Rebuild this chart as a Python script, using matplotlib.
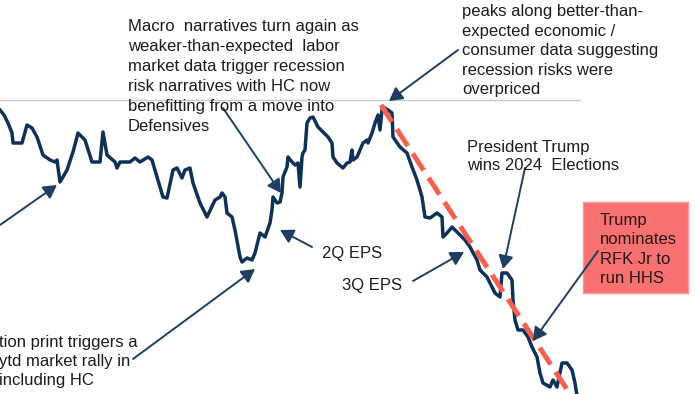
import matplotlib
matplotlib.use("Agg")
import matplotlib.pyplot as plt
from matplotlib.patches import Rectangle

# relative performance index (traced), x = trading day
days = [0, 4, 8, 12, 13, 18, 22, 27, 32, 37, 43, 50, 55, 57, 60, 67, 73, 78, 85, 92,
        100, 103, 107, 115, 117, 120, 130, 135, 140, 148, 152, 157, 163, 167, 173, 177,
        182, 185, 190, 193, 200, 207, 215, 220, 222, 225, 227, 232, 235, 240, 242, 247,
        252, 255, 260, 265, 270, 272, 273, 277, 280, 282, 283, 287, 288, 292, 295, 298,
        300, 302, 303, 305, 307, 310, 313, 318, 323, 328, 332, 333, 337, 343, 347, 350,
        352, 353, 357, 360, 363, 367, 368, 372, 375, 378, 380, 382, 383, 388, 392, 393,
        400, 407, 412, 417, 422, 425, 430, 437, 442, 443, 447, 452, 458, 465, 470, 477,
        480, 487, 495, 500, 502, 507, 512, 513, 515, 518, 523, 528, 532, 537, 540, 543,
        550, 553, 557, 562, 567, 572, 575, 577]
rel_perf = [284, 279, 271, 261, 251, 251, 251, 269, 266, 257, 239, 234, 232, 234, 212,
            224, 242, 261, 254, 232, 232, 262, 239, 232, 226, 232, 232, 236, 232, 237,
            234, 217, 197, 196, 224, 226, 216, 224, 226, 211, 191, 177, 194, 197, 201,
            197, 181, 177, 164, 137, 132, 136, 134, 141, 161, 157, 171, 184, 197, 191,
            192, 201, 217, 227, 237, 232, 229, 231, 207, 237, 241, 244, 271, 276, 277,
            267, 262, 257, 251, 237, 231, 226, 231, 232, 244, 234, 237, 244, 251, 254,
            251, 261, 271, 279, 264, 284, 287, 284, 281, 257, 247, 241, 227, 214, 197,
            177, 176, 181, 177, 157, 161, 167, 161, 154, 147, 134, 124, 117, 101, 97,
            121, 121, 114, 94, 74, 64, 64, 57, 47, 37, 21, 11, 7, 14, 7, 31, 31, 24, 11, -2]

trend_days = [381, 570]
trend_vals = [289, 0]
prior_peak = 294

macro_note = ["Macro  narratives turn again as", "weaker-than-expected  labor",
              "market data trigger recession", "risk narratives with HC now",
              "benefitting from a move into", "Defensives"]
peak_note = ["peaks along better-than-", "expected economic /",
             "consumer data suggesting", "recession risks were", "overpriced"]
election_note = ["President Trump", "wins 2024  Elections"]
rfk_note = ["Trump", "nominates", "RFK Jr to", "run HHS"]
cpi_note = ["tion print triggers a", "ytd market rally in", "including HC"]

NAVY = "#0e3156"
ARROW = "#1f3f62"
TXT = "#1c1c1c"
FS = 12

plt.rcParams['font.family'] = ['Liberation Sans', 'DejaVu Sans']

fig = plt.figure(figsize=(7, 3.94), dpi=100)
ax = fig.add_axes([0, 0, 1, 1])
ax.set_xlim(0, 700)
ax.set_ylim(394, 0)  # top-down layout like the slide
ax.axis("off")

ax.plot([0, 580], [394 - prior_peak] * 2, color="#c9c9c9", lw=1.0, zorder=1)
ax.plot(days, [394 - v for v in rel_perf], color=NAVY, lw=2.5, zorder=3,
        solid_joinstyle="round")
ax.plot(trend_days, [394 - v for v in trend_vals], color="#f4604f", lw=3.6,
        dashes=(4, 1.8), zorder=4)


def arrow(start, tip):
    ax.annotate("", xy=tip, xytext=start,
                arrowprops=dict(arrowstyle="-|>,head_length=0.5,head_width=0.28",
                                color=ARROW, lw=1.4, mutation_scale=16,
                                shrinkA=0, shrinkB=0),
                zorder=5)


def note(x, y0, step, lines, color=TXT, z=6):
    # y0 = centre of first line, baseline sits about half a cap height lower
    for i, s in enumerate(lines):
        ax.text(x, y0 + i * step + 6, s, fontsize=FS, color=color,
                va="baseline", ha="left", zorder=z)


note(128, 25, 20, macro_note)
arrow((223, 108), (281, 193))

note(462, 10, 19.6, peak_note)
arrow((458, 50), (389, 101))

note(467, 146, 17.5, election_note)
arrow((525, 168), (503, 269))

ax.add_patch(Rectangle((583, 202), 105, 91, facecolor="#f87171",
                       edgecolor="#f79a9a", lw=1.0, zorder=2))
note(600, 219, 19.3, rfk_note, color="#2a1414", z=3)
arrow((598, 251), (533, 341))

note(322, 252, 0, ["2Q EPS"])
arrow((312, 247), (280, 230))

note(342, 284, 0, ["3Q EPS"])
arrow((413, 281), (464, 252))

note(-1, 341, 19, cpi_note)
arrow((133, 359), (255, 269))

arrow((0, 225), (57, 185))

fig.savefig("out.png", dpi=100)
